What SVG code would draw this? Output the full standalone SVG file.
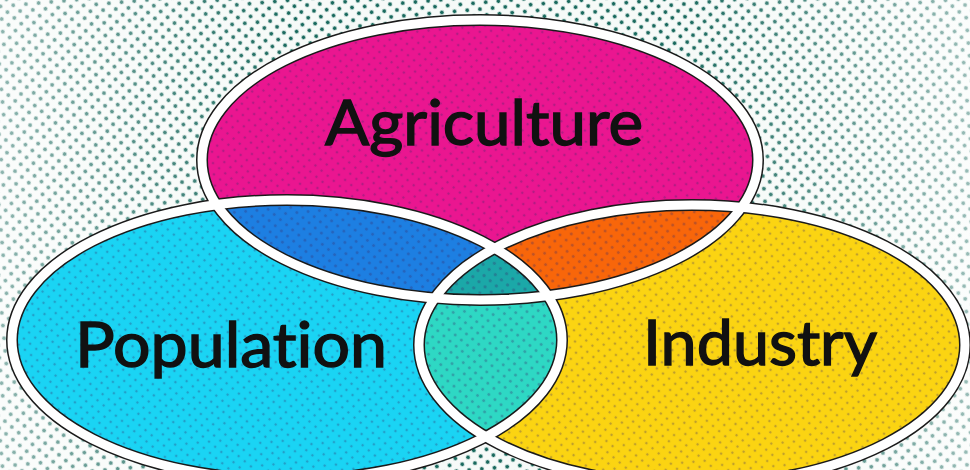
<svg xmlns="http://www.w3.org/2000/svg" width="970" height="470" viewBox="0 0 970 470">
  <defs>
    <pattern id="dots" patternUnits="userSpaceOnUse" width="9" height="9" patternTransform="rotate(40)">
      <circle cx="4.5" cy="4.5" r="2" fill="#1a6a5e"/>
    </pattern>
    <pattern id="fdots" patternUnits="userSpaceOnUse" width="8" height="8" patternTransform="rotate(40)">
      <circle cx="4" cy="4" r="1.3" fill="#3a2a6a"/>
    </pattern>
    <linearGradient id="bgfade" x1="0" y1="0" x2="1" y2="0">
      <stop offset="0" stop-color="#ffffff" stop-opacity="0.5"/>
      <stop offset="0.3" stop-color="#ffffff" stop-opacity="0"/>
      <stop offset="0.7" stop-color="#ffffff" stop-opacity="0"/>
      <stop offset="1" stop-color="#ffffff" stop-opacity="0.55"/>
    </linearGradient>
    <clipPath id="clipA"><ellipse cx="480" cy="160" rx="278" ry="140"/></clipPath>
    <clipPath id="clipP"><ellipse cx="287" cy="340" rx="275" ry="140"/></clipPath>
    <clipPath id="clipI"><ellipse cx="692" cy="345" rx="273" ry="140"/></clipPath>
    <style>
      .lbl { font-family: "Lato", "Open Sans", "Liberation Sans", sans-serif; font-size: 62px; fill: #111111; stroke: #111111; stroke-width: 1.4; font-variant-ligatures: none; }
      .edge { fill: none; stroke: #1a1a1a; stroke-width: 12; }
      .band { fill: none; stroke: #ffffff; stroke-width: 9; }
    </style>
  </defs>

  <rect width="970" height="470" fill="#f6faf8"/>
  <rect width="970" height="470" fill="url(#dots)"/>
  <rect width="970" height="470" fill="url(#bgfade)"/>

  <g id="agriculture">
    <ellipse cx="480" cy="160" rx="278" ry="140" fill="#ea1690"/>
  </g>
  <g id="population">
    <ellipse cx="287" cy="340" rx="275" ry="140" fill="#1ad4f4"/>
  </g>
  <g id="industry">
    <ellipse cx="692" cy="345" rx="273" ry="140" fill="#fbd412"/>
  </g>

  <g id="overlaps">
    <g clip-path="url(#clipA)">
      <ellipse cx="287" cy="340" rx="275" ry="140" fill="#1d7fe2"/>
      <ellipse cx="692" cy="345" rx="273" ry="140" fill="#f8660a"/>
    </g>
    <g clip-path="url(#clipP)">
      <ellipse cx="692" cy="345" rx="273" ry="140" fill="#2ed8c4"/>
    </g>
    <g clip-path="url(#clipP)">
      <g clip-path="url(#clipI)">
        <ellipse cx="480" cy="160" rx="278" ry="140" fill="#1ba8a8"/>
      </g>
    </g>
  </g>

  <g id="texture" opacity="0.3">
    <ellipse cx="480" cy="160" rx="278" ry="140" fill="url(#fdots)"/>
    <ellipse cx="287" cy="340" rx="275" ry="140" fill="url(#fdots)"/>
    <ellipse cx="692" cy="345" rx="273" ry="140" fill="url(#fdots)"/>
  </g>

  <g id="outlines">
    <ellipse class="edge" cx="480" cy="160" rx="278" ry="140"/>
    <ellipse class="edge" cx="287" cy="340" rx="275" ry="140"/>
    <ellipse class="edge" cx="692" cy="345" rx="273" ry="140"/>
    <ellipse class="band" cx="480" cy="160" rx="278" ry="140"/>
    <ellipse class="band" cx="287" cy="340" rx="275" ry="140"/>
    <ellipse class="band" cx="692" cy="345" rx="273" ry="140"/>
  </g>

  <g id="labels">
    <text class="lbl" x="325" y="145" textLength="318" lengthAdjust="spacingAndGlyphs">Agriculture</text>
    <text class="lbl" x="75" y="367" textLength="312" lengthAdjust="spacingAndGlyphs">Population</text>
    <text class="lbl" x="643" y="365" textLength="234" lengthAdjust="spacingAndGlyphs">Industry</text>
  </g>
</svg>
